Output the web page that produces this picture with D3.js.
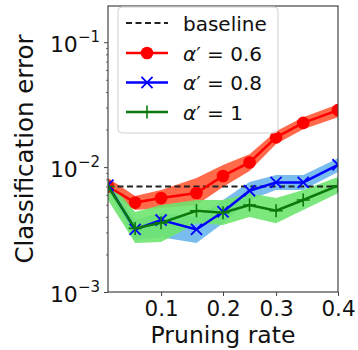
<!DOCTYPE html>
<html>
<head>
<meta charset="utf-8">
<script src="https://cdn.jsdelivr.net/npm/d3@7"></script>
<style>
  body { margin: 0; background: #fff; }
  svg { display: block; font-family: "DejaVu Sans", sans-serif; }
</style>
</head>
<body>
<div id="chart"></div>
<script>
// pruning rates actually reached (ticks sit on points 2, 4, 6, 8)
const rates = [0.01, 0.056, 0.1, 0.16, 0.205, 0.25, 0.295, 0.341, 0.4];
const baseline = 0.0070;

const err06 = [0.0070, 0.0052, 0.00565, 0.0062, 0.0085, 0.0109, 0.0173, 0.0226, 0.0286];
const err06Lo = [0.0062, 0.00453, 0.0047, 0.00497, 0.00692, 0.00929, 0.0153, 0.0201, 0.0251];
const err06Hi = [0.0082, 0.00586, 0.00655, 0.00817, 0.0104, 0.0127, 0.0194, 0.0251, 0.0319];

const err08 = [0.00718, 0.00317, 0.00377, 0.00317, 0.00439, 0.00647, 0.00754, 0.00754, 0.01044];
const err08Lo = [0.00655, 0.00261, 0.00275, 0.00247, 0.00356, 0.00545, 0.00655, 0.00655, 0.00912];
const err08Hi = [0.00787, 0.00377, 0.00429, 0.00398, 0.00545, 0.00759, 0.00863, 0.00863, 0.0118];

const err10 = [0.0070, 0.00323, 0.00358, 0.00447, 0.00431, 0.00497, 0.00447, 0.00545, 0.00709];
const err10Lo = [0.00545, 0.00247, 0.00251, 0.00356, 0.00344, 0.00398, 0.00356, 0.00453, 0.00619];
const err10Hi = [0.00787, 0.00437, 0.00497, 0.00545, 0.00545, 0.00619, 0.00565, 0.00655, 0.00832];

const yTicks = [1e-3, 1e-2, 1e-1];
const xTickIdx = [2, 4, 6, 8];

const series = [
  {label: "0.6", mean: err06, lo: err06Lo, hi: err06Hi, line: "#ff0000", band: "#ff5a36", marker: "circle"},
  {label: "0.8", mean: err08, lo: err08Lo, hi: err08Hi, line: "#0000ff", band: "#6ab6ec", marker: "x"},
  {label: "1", mean: err10, lo: err10Lo, hi: err10Hi, line: "#0a780a", band: "#6ee46e", marker: "plus"},
];

const width = 358, height = 350;
const M = {top: 6, right: 20, bottom: 58, left: 108};
const innerW = width - M.left - M.right;
const innerH = height - M.top - M.bottom;

const svg = d3.select("#chart").append("svg")
  .attr("width", width)
  .attr("height", height);

const x = d3.scaleLinear().domain([0.01, 0.4]).range([0, innerW]);
const y = d3.scaleLog().domain([1e-3, 0.195]).range([innerH, 0]);

svg.append("defs").append("clipPath").attr("id", "clip")
  .append("rect").attr("width", innerW).attr("height", innerH);

const g = svg.append("g").attr("transform", `translate(${M.left},${M.top})`);
const plot = g.append("g").attr("clip-path", "url(#clip)");

// Bands
const area = d3.area()
  .x((d, i) => x(rates[i]))
  .y0(d => y(d[0]))
  .y1(d => y(d[1]));

for (const s of series) {
  plot.append("path")
    .datum(s.lo.map((v, i) => [v, s.hi[i]]))
    .attr("d", area)
    .attr("fill", s.band)
    .attr("opacity", 0.9);
}

// Baseline
plot.append("line")
  .attr("x1", 0).attr("x2", innerW)
  .attr("y1", y(baseline)).attr("y2", y(baseline))
  .attr("stroke", "#222")
  .attr("stroke-width", 2)
  .attr("stroke-dasharray", "6,3.5");

const line = d3.line().x((d, i) => x(rates[i])).y(d => y(d));

function drawMarker(sel, type, color, cx, cy, size) {
  if (type === "circle") {
    sel.append("circle").attr("cx", cx).attr("cy", cy).attr("r", size).attr("fill", color);
  } else if (type === "x") {
    const r = size * 0.85;
    sel.append("path")
      .attr("d", `M${cx - r},${cy - r}L${cx + r},${cy + r}M${cx - r},${cy + r}L${cx + r},${cy - r}`)
      .attr("stroke", color).attr("stroke-width", 1.8).attr("fill", "none");
  } else {
    sel.append("path")
      .attr("d", `M${cx - size},${cy}L${cx + size},${cy}M${cx},${cy - size}L${cx},${cy + size}`)
      .attr("stroke", color).attr("stroke-width", 1.6).attr("fill", "none");
  }
}

for (const s of series) {
  plot.append("path")
    .datum(s.mean)
    .attr("d", line)
    .attr("fill", "none")
    .attr("stroke", s.line)
    .attr("stroke-width", 2.5);
  s.mean.forEach((v, i) => drawMarker(plot, s.marker, s.line, x(rates[i]), y(v), s.marker === "circle" ? 6.3 : 6.5));
}

// Axes
const axisColor = "#444";

const xAxis = g.append("g")
  .attr("transform", `translate(0,${innerH})`)
  .call(d3.axisBottom(x)
    .tickValues(xTickIdx.map(i => rates[i]))
    .tickFormat(d3.format(".1f"))
    .tickSize(4).tickPadding(5));
xAxis.select(".domain").remove();
xAxis.selectAll(".tick line").attr("stroke", axisColor).attr("stroke-width", 1);
xAxis.selectAll(".tick text")
  .attr("fill", "#111")
  .attr("font-size", 21.5)
  .attr("font-family", "DejaVu Sans")
  .attr("dy", "0.71em");

const minors = [];
for (const dec of [1e-3, 1e-2, 1e-1]) {
  for (let k = 2; k <= 9; k++) {
    const v = dec * k;
    if (v <= 0.195) minors.push(v);
  }
}

const yMinor = g.append("g").call(d3.axisLeft(y).tickValues(minors).tickFormat("").tickSize(2));
yMinor.select(".domain").remove();
yMinor.selectAll(".tick line").attr("stroke", axisColor).attr("stroke-width", 0.8);

const yAxis = g.append("g").call(d3.axisLeft(y).tickValues(yTicks).tickFormat("").tickSize(4));
yAxis.select(".domain").remove();
yAxis.selectAll(".tick line").attr("stroke", axisColor).attr("stroke-width", 1);

yAxis.selectAll(".tick").each(function (d) {
  const t = d3.select(this).append("text")
    .attr("x", -8)
    .attr("y", 9)
    .attr("text-anchor", "end")
    .attr("fill", "#111")
    .attr("font-family", "DejaVu Sans");
  t.append("tspan").attr("font-size", 22).text("10");
  t.append("tspan").attr("font-size", 15).attr("dy", -10)
    .text("\u2212" + Math.round(-Math.log10(d)));
});

// Frame
g.append("rect")
  .attr("width", innerW).attr("height", innerH)
  .attr("fill", "none")
  .attr("stroke", axisColor)
  .attr("stroke-width", 1.2);

// Axis labels
svg.append("text")
  .attr("x", M.left + innerW / 2)
  .attr("y", 343)
  .attr("text-anchor", "middle")
  .attr("font-size", 23.5)
  .attr("fill", "#111")
  .text("Pruning rate");

svg.append("text")
  .attr("transform", `translate(33,${M.top + innerH / 2}) rotate(-90)`)
  .attr("text-anchor", "middle")
  .attr("font-size", 24.5)
  .attr("fill", "#111")
  .text("Classification error");

// Legend
const leg = svg.append("g").attr("transform", "translate(118,7)");
leg.append("rect")
  .attr("width", 160).attr("height", 126)
  .attr("rx", 4)
  .attr("fill", "#fff").attr("fill-opacity", 0.8)
  .attr("stroke", "#d0d0d0").attr("stroke-width", 1);

const rowY = [16, 46, 75.5, 105];
leg.append("line")
  .attr("x1", 8).attr("x2", 50).attr("y1", rowY[0]).attr("y2", rowY[0])
  .attr("stroke", "#222").attr("stroke-width", 2).attr("stroke-dasharray", "6,3.5");
leg.append("text")
  .attr("x", 65).attr("y", rowY[0] + 7.5)
  .attr("font-size", 20).attr("fill", "#111")
  .text("baseline");

series.forEach((s, i) => {
  const ry = rowY[i + 1];
  leg.append("line")
    .attr("x1", 8).attr("x2", 50).attr("y1", ry).attr("y2", ry)
    .attr("stroke", s.line).attr("stroke-width", 2.5);
  drawMarker(leg, s.marker, s.line, 29, ry, s.marker === "circle" ? 6.3 : 6.5);
  const t = leg.append("text")
    .attr("x", 65).attr("y", ry + 7.5)
    .attr("font-size", 20).attr("fill", "#111");
  t.append("tspan").attr("font-style", "italic").text("\u03b1");
  t.append("tspan").text("\u2032 = " + s.label);
});
</script>
</body>
</html>
